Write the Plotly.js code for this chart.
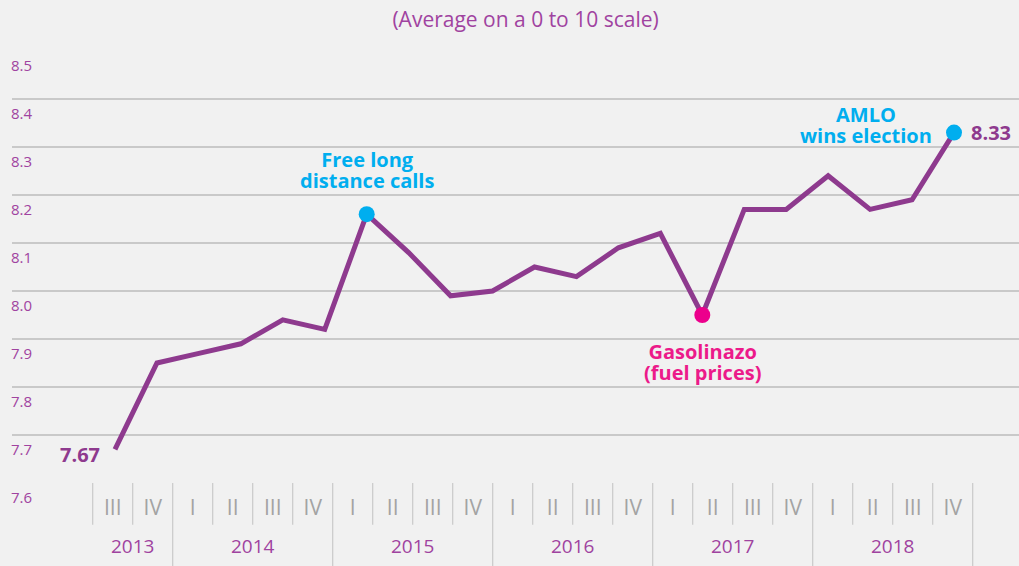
<!DOCTYPE html>
<html>
<head>
<meta charset="utf-8">
<script src="https://cdn.plot.ly/plotly-3.0.1.min.js"></script>
<style>
  html, body { margin: 0; padding: 0; background: #f1f1f1; }
  #chart { width: 1019px; height: 566px; }
</style>
</head>
<body>
<div id="chart"></div>
<script>
// ---- data ----
const lineQuarters = [
  '2013 III','2013 IV',
  '2014 I','2014 II','2014 III','2014 IV',
  '2015 I','2015 II','2015 III','2015 IV',
  '2016 I','2016 II','2016 III','2016 IV',
  '2017 I','2017 II','2017 III','2017 IV',
  '2018 I','2018 II','2018 III'
];
const satisfaction = [
  7.67, 7.85,
  7.87, 7.89, 7.94, 7.92,
  8.16, 8.08, 7.99, 8.00,
  8.05, 8.03, 8.09, 8.12,
  7.95, 8.17, 8.17, 8.24,
  8.17, 8.19, 8.33
];
const cellYears = [
  '2013','2013',
  '2014','2014','2014','2014',
  '2015','2015','2015','2015',
  '2016','2016','2016','2016',
  '2017','2017','2017','2017',
  '2018','2018','2018','2018'
];
const cellQuarters = [
  'III','IV',
  'I','II','III','IV',
  'I','II','III','IV',
  'I','II','III','IV',
  'I','II','III','IV',
  'I','II','III','IV'
];
const yTicks = [7.6, 7.7, 7.8, 7.9, 8.0, 8.1, 8.2, 8.3, 8.4, 8.5];
const eventQuarters = ['2015 I', '2017 I', '2018 III'];
const eventLabels = [
  ['Free long', 'distance calls'],
  ['Gasolinazo', '(fuel prices)'],
  ['AMLO', 'wins election']
];
const eventColors = ['#00aeef', '#ec008c', '#00aeef'];

// ---- styles ----
const FONT = 'Open Sans, Arial, sans-serif';
const PURPLE = '#8e3a8e';
const TXT = '#a043a0';
const GRID = '#c9c9c9';

const eventValues = eventQuarters.map(q => satisfaction[lineQuarters.indexOf(q)]);
const cellIdx = cellQuarters.map((_, i) => i);

const traces = [
  {
    x: lineQuarters, y: satisfaction, type: 'scatter', mode: 'lines',
    line: { color: PURPLE, width: 5 }, hoverinfo: 'skip', showlegend: false,
    xaxis: 'x', yaxis: 'y'
  },
  {
    x: eventQuarters, y: eventValues, type: 'scatter', mode: 'markers',
    marker: { color: eventColors, size: 16 }, hoverinfo: 'skip', showlegend: false,
    xaxis: 'x', yaxis: 'y'
  },
  {
    x: cellIdx, y: cellIdx.map(() => 7.6), type: 'scatter', mode: 'markers',
    marker: { opacity: 0 }, hoverinfo: 'skip', showlegend: false,
    xaxis: 'x2', yaxis: 'y'
  }
];

// dividers between quarter cells and year groups
const shapes = [];
for (let i = 0; i <= cellQuarters.length; i++) {
  const yearEdge = i > 0 && (i === cellQuarters.length || cellYears[i] !== cellYears[i - 1]);
  shapes.push({
    type: 'line', xref: 'x2', yref: 'paper',
    x0: i - 0.5, x1: i - 0.5, y0: 0, y1: yearEdge ? -0.2 : -0.0965,
    line: { color: GRID, width: 1.2 }, layer: 'below'
  });
}

const annotations = [];
// year labels
[...new Set(cellYears)].forEach(yr => {
  const first = cellYears.indexOf(yr), last = cellYears.lastIndexOf(yr);
  annotations.push({
    xref: 'x2', yref: 'paper', x: (first + last) / 2, y: -0.145,
    text: yr, showarrow: false, xanchor: 'center', yanchor: 'middle',
    font: { family: FONT, size: 19, color: TXT }
  });
});
// event labels (base font size controls line spacing, inner span sets glyph size)
const eventText = lines => lines.map(l => '<span style="font-size:20px"><b>' + l + '</b></span>').join('<br>');
const eventPlacement = [
  { xs: 0, ys: 44, base: 16, color: '#00aeef' },
  { xs: 0, ys: -47, base: 16, color: '#ec1a8a' },
  { xs: -88, ys: 8, base: 16, color: '#00aeef' }
];
eventQuarters.forEach((q, k) => {
  const p = eventPlacement[k];
  annotations.push({
    xref: 'x', yref: 'y', x: lineQuarters.indexOf(q), y: eventValues[k],
    text: eventText(eventLabels[k]), showarrow: false, align: 'center',
    xanchor: 'center', yanchor: 'middle', xshift: p.xs, yshift: p.ys,
    font: { family: FONT, size: p.base, color: p.color }
  });
});
// first / last values
annotations.push({
  xref: 'x', yref: 'y', x: 0, y: satisfaction[0], text: '<b>' + satisfaction[0].toFixed(2) + '</b>',
  showarrow: false, xanchor: 'right', yanchor: 'middle', xshift: -13, yshift: -5,
  font: { family: FONT, size: 20, color: PURPLE }
});
const lastI = satisfaction.length - 1;
annotations.push({
  xref: 'x', yref: 'y', x: lastI, y: satisfaction[lastI], text: '<b>' + satisfaction[lastI].toFixed(2) + '</b>',
  showarrow: false, xanchor: 'left', yanchor: 'middle', xshift: 15, yshift: 0,
  font: { family: FONT, size: 20, color: PURPLE }
});

const layout = {
  width: 1019, height: 566,
  margin: { l: 12, r: 0, t: 51, b: 83, pad: 0 },
  paper_bgcolor: '#f1f1f1', plot_bgcolor: '#f1f1f1',
  showlegend: false,
  title: {
    text: '(Average on a 0 to 10 scale)',
    font: { family: FONT, size: 21, color: TXT },
    x: 0.51, xref: 'paper', xanchor: 'center',
    y: 1 - 20 / 566, yref: 'container', yanchor: 'middle'
  },
  xaxis: {
    type: 'category', categoryorder: 'array', categoryarray: lineQuarters,
    range: [-2.4553, 21.5495], visible: false, fixedrange: true
  },
  xaxis2: {
    type: 'linear', overlaying: 'x', anchor: 'y', side: 'bottom',
    range: [-2.5175, 22.6575], tickmode: 'array', tickvals: cellIdx, ticktext: cellQuarters,
    showgrid: false, zeroline: false, showline: false, ticks: '',
    ticklabelstandoff: 10,
    tickfont: { family: FONT, size: 21, color: '#a3a3a3' }, fixedrange: true
  },
  yaxis: {
    range: [7.6, 8.5], tickmode: 'array', tickvals: yTicks, ticktext: yTicks.map(v => v.toFixed(1)),
    showgrid: true, gridcolor: GRID, gridwidth: 1.2, zeroline: false, showline: false, ticks: '',
    ticklabelposition: 'inside', ticklabelshift: 15, ticklabeloverflow: 'allow',
    ticklabelstandoff: -4,
    tickfont: { family: FONT, size: 15, color: TXT }, fixedrange: true
  },
  shapes: shapes,
  annotations: annotations
};

Plotly.newPlot('chart', traces, layout, { displayModeBar: false, staticPlot: true });
</script>
</body>
</html>
